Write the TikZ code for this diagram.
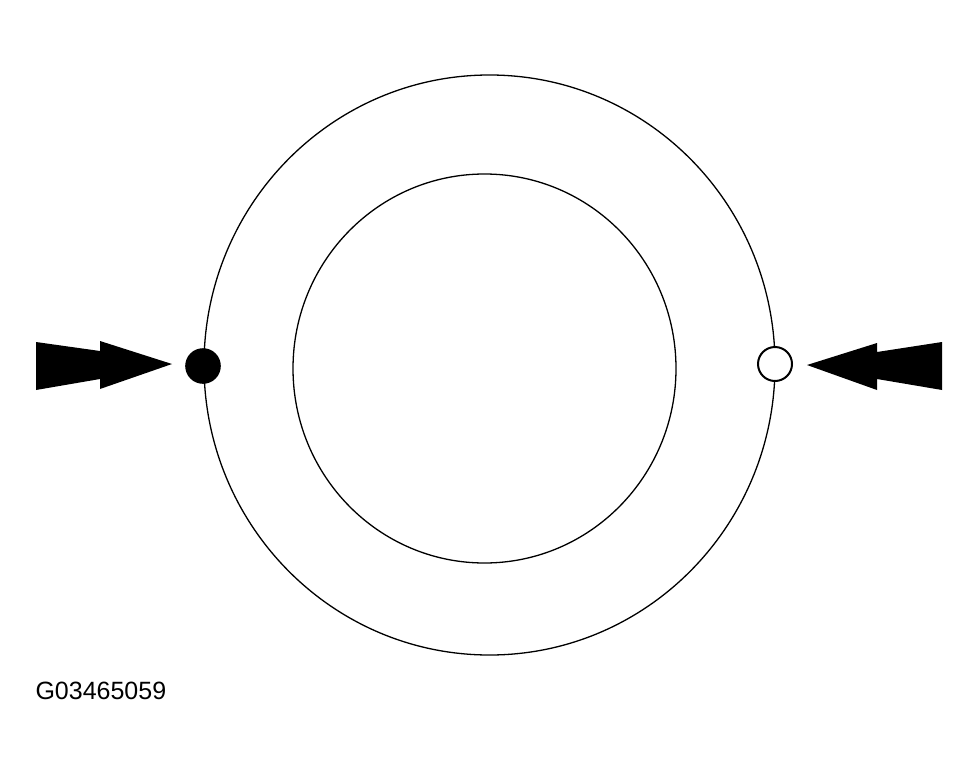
\documentclass[tikz,border=0pt]{standalone}
\usepackage{fontspec}
\setmainfont{Liberation Sans}
\usepackage{xcolor}
\usepackage{tikz}
\definecolor{ink}{HTML}{000000}
\definecolor{paper}{HTML}{FFFFFF}
\tikzset{
  ring/.style={draw=ink, line width=1.3pt},
  dotF/.style={circle, fill=ink, draw=ink, line width=1.6pt, minimum size=34pt, inner sep=0pt},
  dotO/.style={circle, fill=paper, draw=ink, line width=2pt, minimum size=34pt, inner sep=0pt},
  arr/.style={fill=ink, draw=none},
  lab/.style={text=ink, font=\fontsize{25}{30}\selectfont, anchor=west}
}
\begin{document}
\begin{tikzpicture}[x=1pt,y=-1pt]
  \useasboundingbox (0,0) rectangle (979,776);

  \draw[ring] (489.5,365) ellipse (285.5 and 290);
  \draw[ring] (484.5,368.5) ellipse (191.5 and 194.5);

  \node[dotF] (fixed) at (203,366) {};
  \node[dotO] (open) at (775,364) {};

  \fill[arr] (36,342) -- (100,351) -- (100,341) -- (172,364) -- (100,389) -- (100,379) -- (36,390) -- cycle;
  \fill[arr] (942,342) -- (877,352) -- (877,343) -- (807,365) -- (877,390) -- (877,379) -- (942,390) -- cycle;

  \node[lab] (code) at (32,691) {G03465059};
\end{tikzpicture}
\end{document}
